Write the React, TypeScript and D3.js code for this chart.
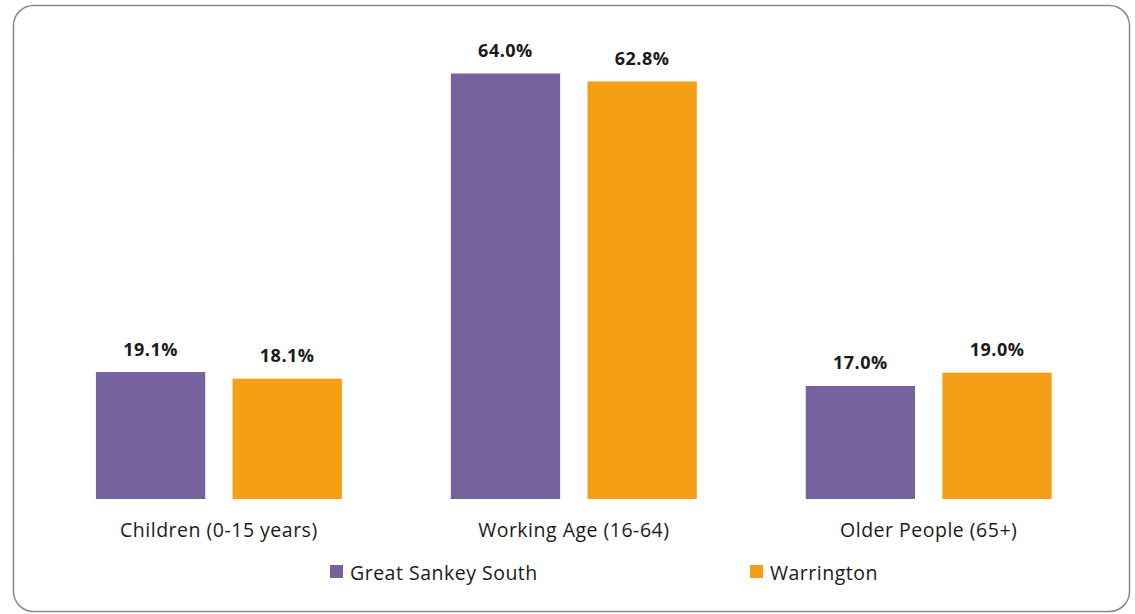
import React, { useEffect, useRef } from "react";
import * as d3 from "d3";

const categories = ["Children (0-15 years)", "Working Age (16-64)", "Older People (65+)"];
const seriesNames = ["Great Sankey South", "Warrington"];
const greatSankeySouth = [19.1, 64.0, 17.0];
const warrington = [18.1, 62.8, 19.0];
const seriesColors = ["#7762A0", "#F59F17"];

const WIDTH = 1135;
const HEIGHT = 614;
const FONT = "'Open Sans', 'Noto Sans', sans-serif";

export default function App() {
  const svgRef = useRef<SVGSVGElement | null>(null);

  useEffect(() => {
    if (!svgRef.current) return;
    const svg = d3.select(svgRef.current);
    svg.selectAll("*").remove();

    // outer frame
    svg.append("rect")
      .attr("x", 13.5)
      .attr("y", 5.5)
      .attr("width", 1116)
      .attr("height", 606)
      .attr("rx", 20)
      .attr("fill", "#fff")
      .attr("stroke", "#8a8a8a")
      .attr("stroke-width", 1.5);

    const values = [greatSankeySouth, warrington];

    const x0 = d3.scaleBand<string>()
      .domain(categories)
      .range([41.6, 1106])
      .paddingInner(0.307)
      .paddingOuter(0.153);

    const x1 = d3.scaleBand<number>()
      .domain([0, 1])
      .range([0, x0.bandwidth()])
      .paddingInner(0.2);

    const y = d3.scaleLinear().domain([0, 70]).range([499, 33.6]);

    const groups = svg.selectAll(".group")
      .data(categories)
      .enter()
      .append("g")
      .attr("transform", d => `translate(${x0(d)},0)`);

    groups.each(function (cat, ci) {
      const g = d3.select(this);
      [0, 1].forEach(si => {
        const v = values[si][ci];
        g.append("rect")
          .attr("x", x1(si)!)
          .attr("y", y(v))
          .attr("width", x1.bandwidth())
          .attr("height", y(0) - y(v))
          .attr("fill", seriesColors[si]);
        g.append("text")
          .attr("x", x1(si)! + x1.bandwidth() / 2)
          .attr("y", y(v) - 16.5)
          .attr("text-anchor", "middle")
          .attr("font-family", FONT)
          .attr("font-weight", "bold")
          .attr("font-size", "18px")
          .attr("letter-spacing", "0.5px")
          .attr("fill", "#1a1a1a")
          .text(`${v.toFixed(1)}%`);
      });
      g.append("text")
        .attr("x", x0.bandwidth() / 2)
        .attr("y", 537)
        .attr("text-anchor", "middle")
        .attr("font-family", FONT)
        .attr("font-size", "19.5px")
        .attr("letter-spacing", "0.5px")
        .attr("fill", "#1a1a1a")
        .text(cat);
    });

    // legend
    const legendX = [330, 750];
    const legend = svg.selectAll(".legend")
      .data(seriesNames)
      .enter()
      .append("g")
      .attr("transform", (d, i) => `translate(${legendX[i]},565)`);
    legend.append("rect")
      .attr("width", 13)
      .attr("height", 13)
      .attr("fill", (d, i) => seriesColors[i]);
    legend.append("text")
      .attr("x", 20)
      .attr("y", 15)
      .attr("font-family", FONT)
      .attr("font-size", "19.5px")
      .attr("letter-spacing", "0.5px")
      .attr("fill", "#1a1a1a")
      .text(d => d);
  }, []);

  return (
    <svg
      ref={svgRef}
      width={WIDTH}
      height={HEIGHT}
      style={{ position: "absolute", left: 0, top: 0 }}
    />
  );
}
